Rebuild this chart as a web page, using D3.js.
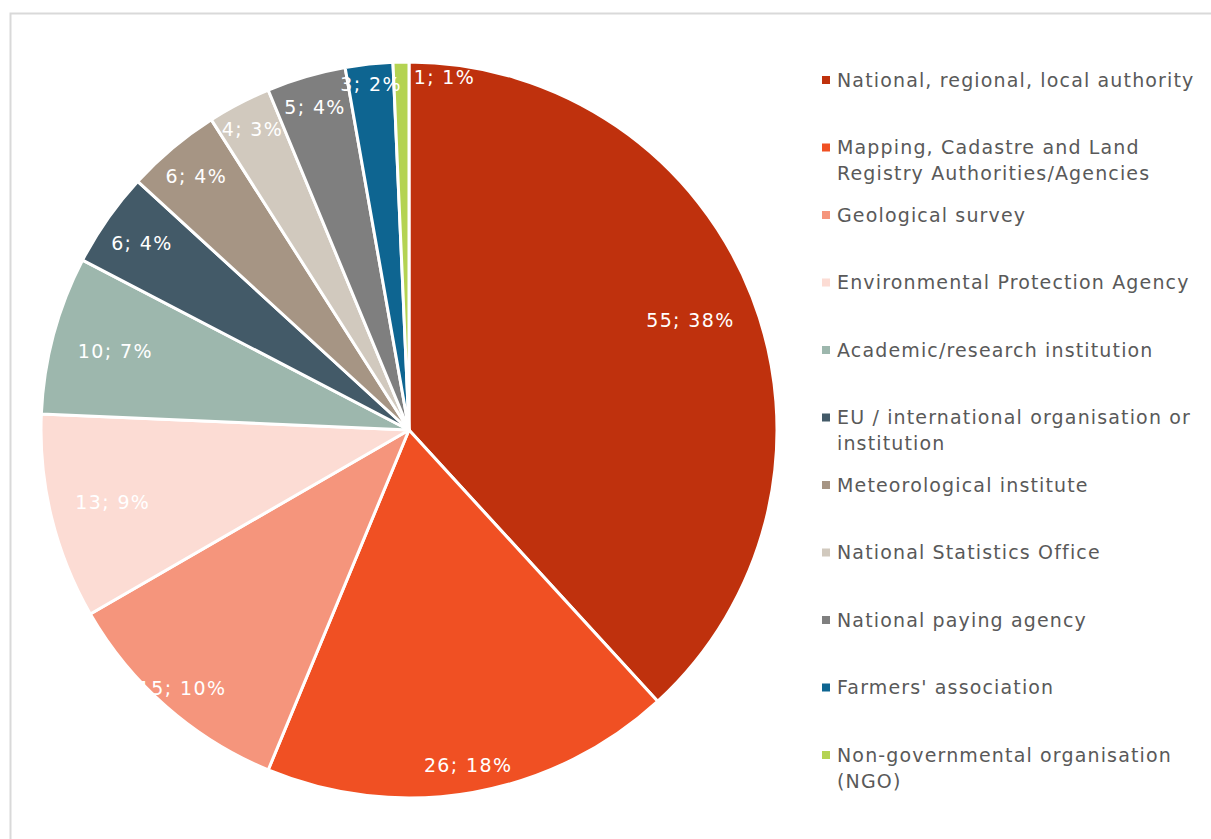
<!DOCTYPE html>
<html>
<head>
<meta charset="utf-8">
<script src="https://cdn.jsdelivr.net/npm/d3@7"></script>
<style>
  body { margin: 0; background: #fff; }
  #chart { width: 1211px; height: 839px; }
  text { font-family: Verdana, "DejaVu Sans", sans-serif; }
</style>
</head>
<body>
<div id="chart"></div>
<script>
// data
const categories = [
    "National, regional, local authority",
    "Mapping, Cadastre and Land Registry Authorities/Agencies",
    "Geological survey",
    "Environmental Protection Agency",
    "Academic/research institution",
    "EU / international organisation or institution",
    "Meteorological institute",
    "National Statistics Office",
    "National paying agency",
    "Farmers' association",
    "Non-governmental organisation (NGO)"
];
const counts = [55, 26, 15, 13, 10, 6, 6, 4, 5, 3, 1];
const percentLabels = ["38%", "18%", "10%", "9%", "7%", "4%", "4%", "3%", "4%", "2%", "1%"];
const legendLines = [
    ["National, regional, local authority"],
    ["Mapping, Cadastre and Land", "Registry Authorities/Agencies"],
    ["Geological survey"],
    ["Environmental Protection Agency"],
    ["Academic/research institution"],
    ["EU / international organisation or", "institution"],
    ["Meteorological institute"],
    ["National Statistics Office"],
    ["National paying agency"],
    ["Farmers' association"],
    ["Non-governmental organisation", "(NGO)"]
];

// styling
const colors = ["#BF310D", "#F05023", "#F5957C", "#FCDCD4", "#9DB7AD", "#435A68",
                "#A69584", "#D1C9BE", "#7F7F7F", "#0E6591", "#B4D352"];
// label placement (radius in px, small angle nudge in degrees), like excel's best fit
const labelRadius = [302, 341, 344, 305, 304, 326, 331, 339, 336, 348, 354];
const labelNudge = [0, 0, 0, 0, 0, 0, 0, 0, 0, 0, 7];

const cx = 409, cy = 430, radius = 368;

const svg = d3.select("#chart").append("svg")
    .attr("width", 1211)
    .attr("height", 839);

// chart frame
svg.append("rect")
    .attr("x", 10.5).attr("y", 13.5)
    .attr("width", 1400).attr("height", 1000)
    .attr("fill", "none")
    .attr("stroke", "#d9d9d9")
    .attr("stroke-width", 2);

const table = categories.map((c, i) => ({ name: c, value: counts[i], pct: percentLabels[i], i: i }));

const pie = d3.pie().sort(null).value(d => d.value);
const arc = d3.arc().innerRadius(0).outerRadius(radius);

const g = svg.append("g").attr("transform", `translate(${cx}, ${cy})`);
const arcs = pie(table);

g.selectAll(".slice")
    .data(arcs)
    .join("path")
    .attr("class", "slice")
    .attr("d", arc)
    .attr("fill", d => colors[d.data.i])
    .attr("stroke", "#fff")
    .attr("stroke-width", 3)
    .attr("stroke-linejoin", "round");

g.selectAll(".lbl")
    .data(arcs)
    .join("text")
    .attr("class", "lbl")
    .attr("transform", d => {
        const a = (d.startAngle + d.endAngle) / 2 + labelNudge[d.data.i] * Math.PI / 180;
        const p = d3.pointRadial(a, labelRadius[d.data.i]);
        return `translate(${p[0]}, ${p[1]})`;
    })
    .attr("text-anchor", "middle")
    .attr("dy", "0.35em")
    .attr("fill", "#fff")
    .style("font-size", "19px")
    .style("letter-spacing", "1.4px")
    .text(d => `${d.data.value}; ${d.data.pct}`);

// legend
const legend = svg.append("g").attr("transform", "translate(822, 80)");
const item = legend.selectAll(".item")
    .data(table)
    .join("g")
    .attr("class", "item")
    .attr("transform", (d, i) => `translate(0, ${i * 67.5})`);

item.append("rect")
    .attr("x", 0).attr("y", -4)
    .attr("width", 8).attr("height", 8)
    .attr("fill", d => colors[d.i]);

item.append("text")
    .attr("fill", "#595959")
    .style("font-size", "19px")
    .style("letter-spacing", "1.15px")
    .selectAll("tspan")
    .data(d => legendLines[d.i])
    .join("tspan")
    .attr("x", 15)
    .attr("y", (d, j) => j * 26)
    .attr("dy", "0.35em")
    .text(d => d);
</script>
</body>
</html>
